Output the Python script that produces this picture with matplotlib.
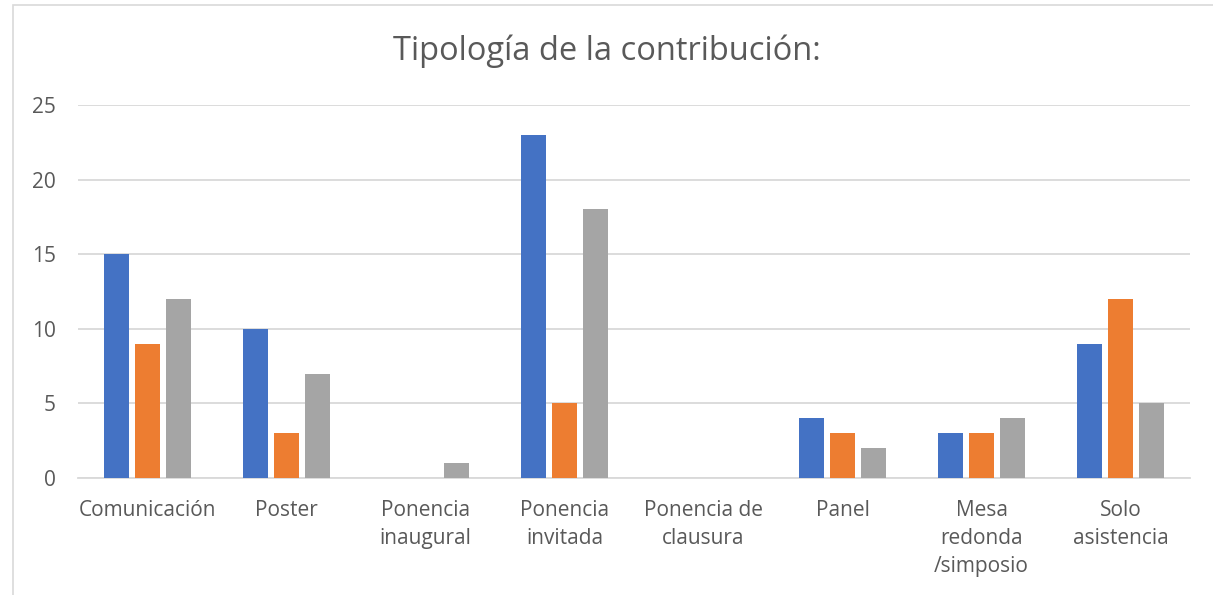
import numpy as np
import matplotlib
matplotlib.use("Agg")
import matplotlib.pyplot as plt
from matplotlib.patches import Rectangle

categories = ["Comunicación", "Poster", "Ponencia\ninaugural", "Ponencia\ninvitada",
              "Ponencia de\nclausura", "Panel", "Mesa\nredonda\n/simposio", "Solo\nasistencia"]
serie_1 = [15, 10, 0, 23, 0, 4, 3, 9]
serie_2 = [9, 3, 0, 5, 0, 3, 3, 12]
serie_3 = [12, 7, 1, 18, 0, 2, 4, 5]
colors = ["#4472C4", "#ED7D31", "#A5A5A5"]

plt.rcParams['font.family'] = ['Open Sans', 'DejaVu Sans']

fig = plt.figure(figsize=(12.13, 5.95), dpi=100)
ax = fig.add_axes([78 / 1213, 1 - 478 / 595, (1190 - 78) / 1213, (478 - 105) / 595])

# chart frame (cropped at right/bottom in the reference)
fig.patches.append(Rectangle((13 / 1213, -0.1), 1.2, 1.1 - 5 / 595,
                             transform=fig.transFigure, fill=False,
                             edgecolor="#d9d9d9", linewidth=1.2))

x = np.arange(len(categories))
w = 0.173
step = 0.223
for i, (vals, c) in enumerate(zip([serie_1, serie_2, serie_3], colors)):
    ax.bar(x + (i - 1) * step, vals, width=w, color=c, zorder=3)

ax.set_xlim(-0.5, len(categories) - 0.5)
ax.set_ylim(0, 25)
ax.set_yticks(range(0, 26, 5))
ax.set_xticks(x)
ax.set_xticklabels(categories, linespacing=1.43, va="top")
ax.grid(axis="y", color="#d9d9d9", linewidth=1.3, zorder=0)
for s in ["top", "right", "left"]:
    ax.spines[s].set_visible(False)
ax.spines["bottom"].set_color("#d9d9d9")
ax.spines["bottom"].set_linewidth(1.3)
ax.tick_params(axis="both", length=0, labelsize=15, colors="#595959")
ax.tick_params(axis="x", pad=16)
ax.tick_params(axis="y", pad=16)

fig.text(0.5, 1 - 51 / 595, "Tipología de la contribución:", ha="center", va="center",
         fontsize=23.5, color="#595959")

fig.savefig("out.png", dpi=100)
